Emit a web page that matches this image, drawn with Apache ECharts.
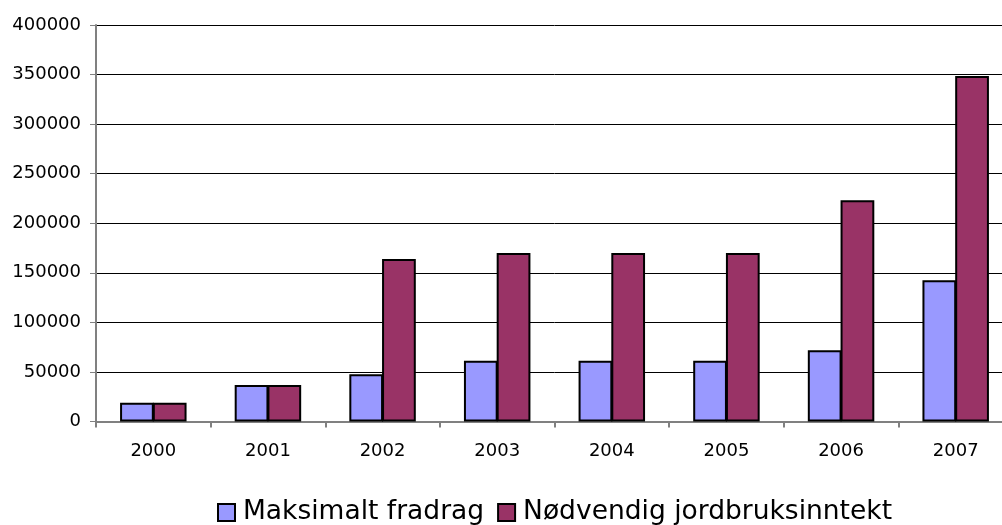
<!DOCTYPE html>
<html>
<head>
<meta charset="utf-8">
<script src="https://cdn.jsdelivr.net/npm/echarts@6/dist/echarts.min.js"></script>
<style>
  html, body { margin: 0; padding: 0; background: #fff; overflow: hidden; }
  /* plottet går litt utenfor bildet til høyre, som i originalen */
  #chart { width: 1016px; height: 525px; }
</style>
</head>
<body>
<div id="chart"></div>
<script>
// år
var years = ["2000", "2001", "2002", "2003", "2004", "2005", "2006", "2007"];
// Maksimalt fradrag
var maksFradrag = [19000, 36800, 47600, 61300, 61300, 61300, 71800, 142500];
// Nødvendig jordbruksinntekt
var nodvInntekt = [19000, 36800, 164000, 170000, 170000, 170000, 223200, 348600];

var font = "DejaVu Sans, Liberation Sans, Arial, sans-serif";

var myChart = echarts.init(document.getElementById("chart"));
myChart.setOption({
  animation: false,
  textStyle: { fontFamily: font },
  grid: { left: 96, width: 917, top: 25, height: 396.5 },
  legend: {
    top: 494,
    left: 212,
    icon: "rect",
    itemWidth: 17,
    itemHeight: 17,
    itemGap: 13,
    textStyle: { fontSize: 26.5, color: "#000", fontFamily: font, padding: [0, 0, 0, 3] },
    data: ["Maksimalt fradrag", "Nødvendig jordbruksinntekt"],
  },
  xAxis: {
    type: "category",
    data: years,
    axisLine: { lineStyle: { color: "#808080", width: 2 } },
    axisTick: { show: true, length: 6, lineStyle: { color: "#808080", width: 2 } },
    axisLabel: { fontSize: 18, color: "#000", margin: 21 },
  },
  yAxis: {
    type: "value",
    min: 0,
    max: 400000,
    interval: 50000,
    axisLine: { show: true, lineStyle: { color: "#808080", width: 2 } },
    axisTick: { show: true, length: 6, lineStyle: { color: "#808080", width: 1 } },
    axisLabel: { fontSize: 18, color: "#000", margin: 15, formatter: function (v) { return String(v); } },
    splitLine: { show: true, lineStyle: { color: "#000", width: 1 } },
  },
  series: [
    {
      name: "Maksimalt fradrag",
      type: "bar",
      data: maksFradrag,
      barGap: "-3%",
      barCategoryGap: "42%",
      itemStyle: { color: "#9999FF", borderColor: "#000", borderWidth: 2 },
    },
    {
      name: "Nødvendig jordbruksinntekt",
      type: "bar",
      data: nodvInntekt,
      barGap: "-3%",
      barCategoryGap: "42%",
      itemStyle: { color: "#993366", borderColor: "#000", borderWidth: 2 },
    },
  ],
});
</script>
</body>
</html>
